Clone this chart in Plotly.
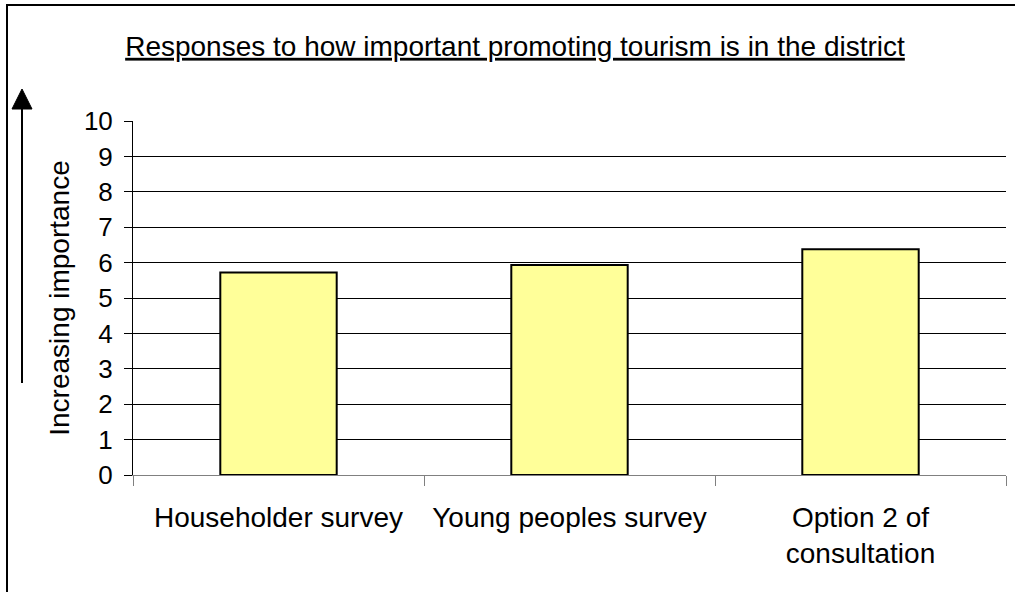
import plotly.graph_objects as go

# Survey categories and mean importance scores (0-10 scale)
categories = ["Householder survey", "Young peoples survey", "Option 2 of<br>consultation"]
scores = [5.72, 5.93, 6.38]
y_ticks = list(range(0, 11))

W, H = 1015, 592
L, R, T, B = 133, 9, 121, 117
pw, ph = W - L - R, H - T - B


def px_x(x):
    return (x - L) / pw


def px_y(y):
    return (H - B - y) / ph


FONT = "Liberation Sans, Arial, sans-serif"

fig = go.Figure(
    go.Bar(
        x=categories,
        y=scores,
        width=0.4,
        marker=dict(color="#FFFF99", line=dict(color="black", width=2)),
    )
)

fig.update_layout(
    width=W,
    height=H,
    margin=dict(l=L, r=R, t=T, b=B),
    paper_bgcolor="white",
    plot_bgcolor="white",
    showlegend=False,
    font=dict(family=FONT, size=26, color="black"),
    title=dict(
        text="<u>Responses to how important promoting tourism is in the district</u>",
        font=dict(family=FONT, size=28, color="black"),
        x=515 / W,
        xanchor="center",
        xref="container",
        y=1 - 46 / H,
        yref="container",
        yanchor="middle",
    ),
)

fig.update_xaxes(
    showline=True,
    linecolor="#808080",
    linewidth=1,
    ticks="outside",
    tickson="boundaries",
    ticklen=10,
    tickcolor="#808080",
    showgrid=False,
    ticklabelstandoff=17,
    tickfont=dict(family=FONT, size=28, color="black"),
)

fig.update_yaxes(
    range=[0, 10],
    tickvals=y_ticks,
    showline=True,
    linecolor="black",
    linewidth=1,
    ticks="outside",
    ticklen=8,
    tickcolor="black",
    showgrid=True,
    gridcolor="black",
    gridwidth=1,
    zeroline=False,
    ticklabelstandoff=6,
    tickfont=dict(family=FONT, size=26, color="black"),
    title=dict(text="Increasing importance", font=dict(family=FONT, size=28, color="black"), standoff=6),
)

# Outer chart frame (top and left edges visible)
fig.add_shape(
    type="rect", xref="paper", yref="paper",
    x0=px_x(7), x1=px_x(W + 20), y0=px_y(H + 20), y1=px_y(5),
    line=dict(color="black", width=2), fillcolor="rgba(0,0,0,0)", layer="above",
)

# Upward arrow beside the axis title
ax = px_x(22)
fig.add_shape(
    type="line", xref="paper", yref="paper",
    x0=ax, x1=ax, y0=px_y(383), y1=px_y(105),
    line=dict(color="black", width=2),
)
fig.add_shape(
    type="path", xref="paper", yref="paper",
    path=f"M {px_x(12)} {px_y(109)} L {px_x(32)} {px_y(109)} L {ax} {px_y(89)} Z",
    fillcolor="black", line=dict(color="black", width=1),
)

fig.write_html("out.html")
